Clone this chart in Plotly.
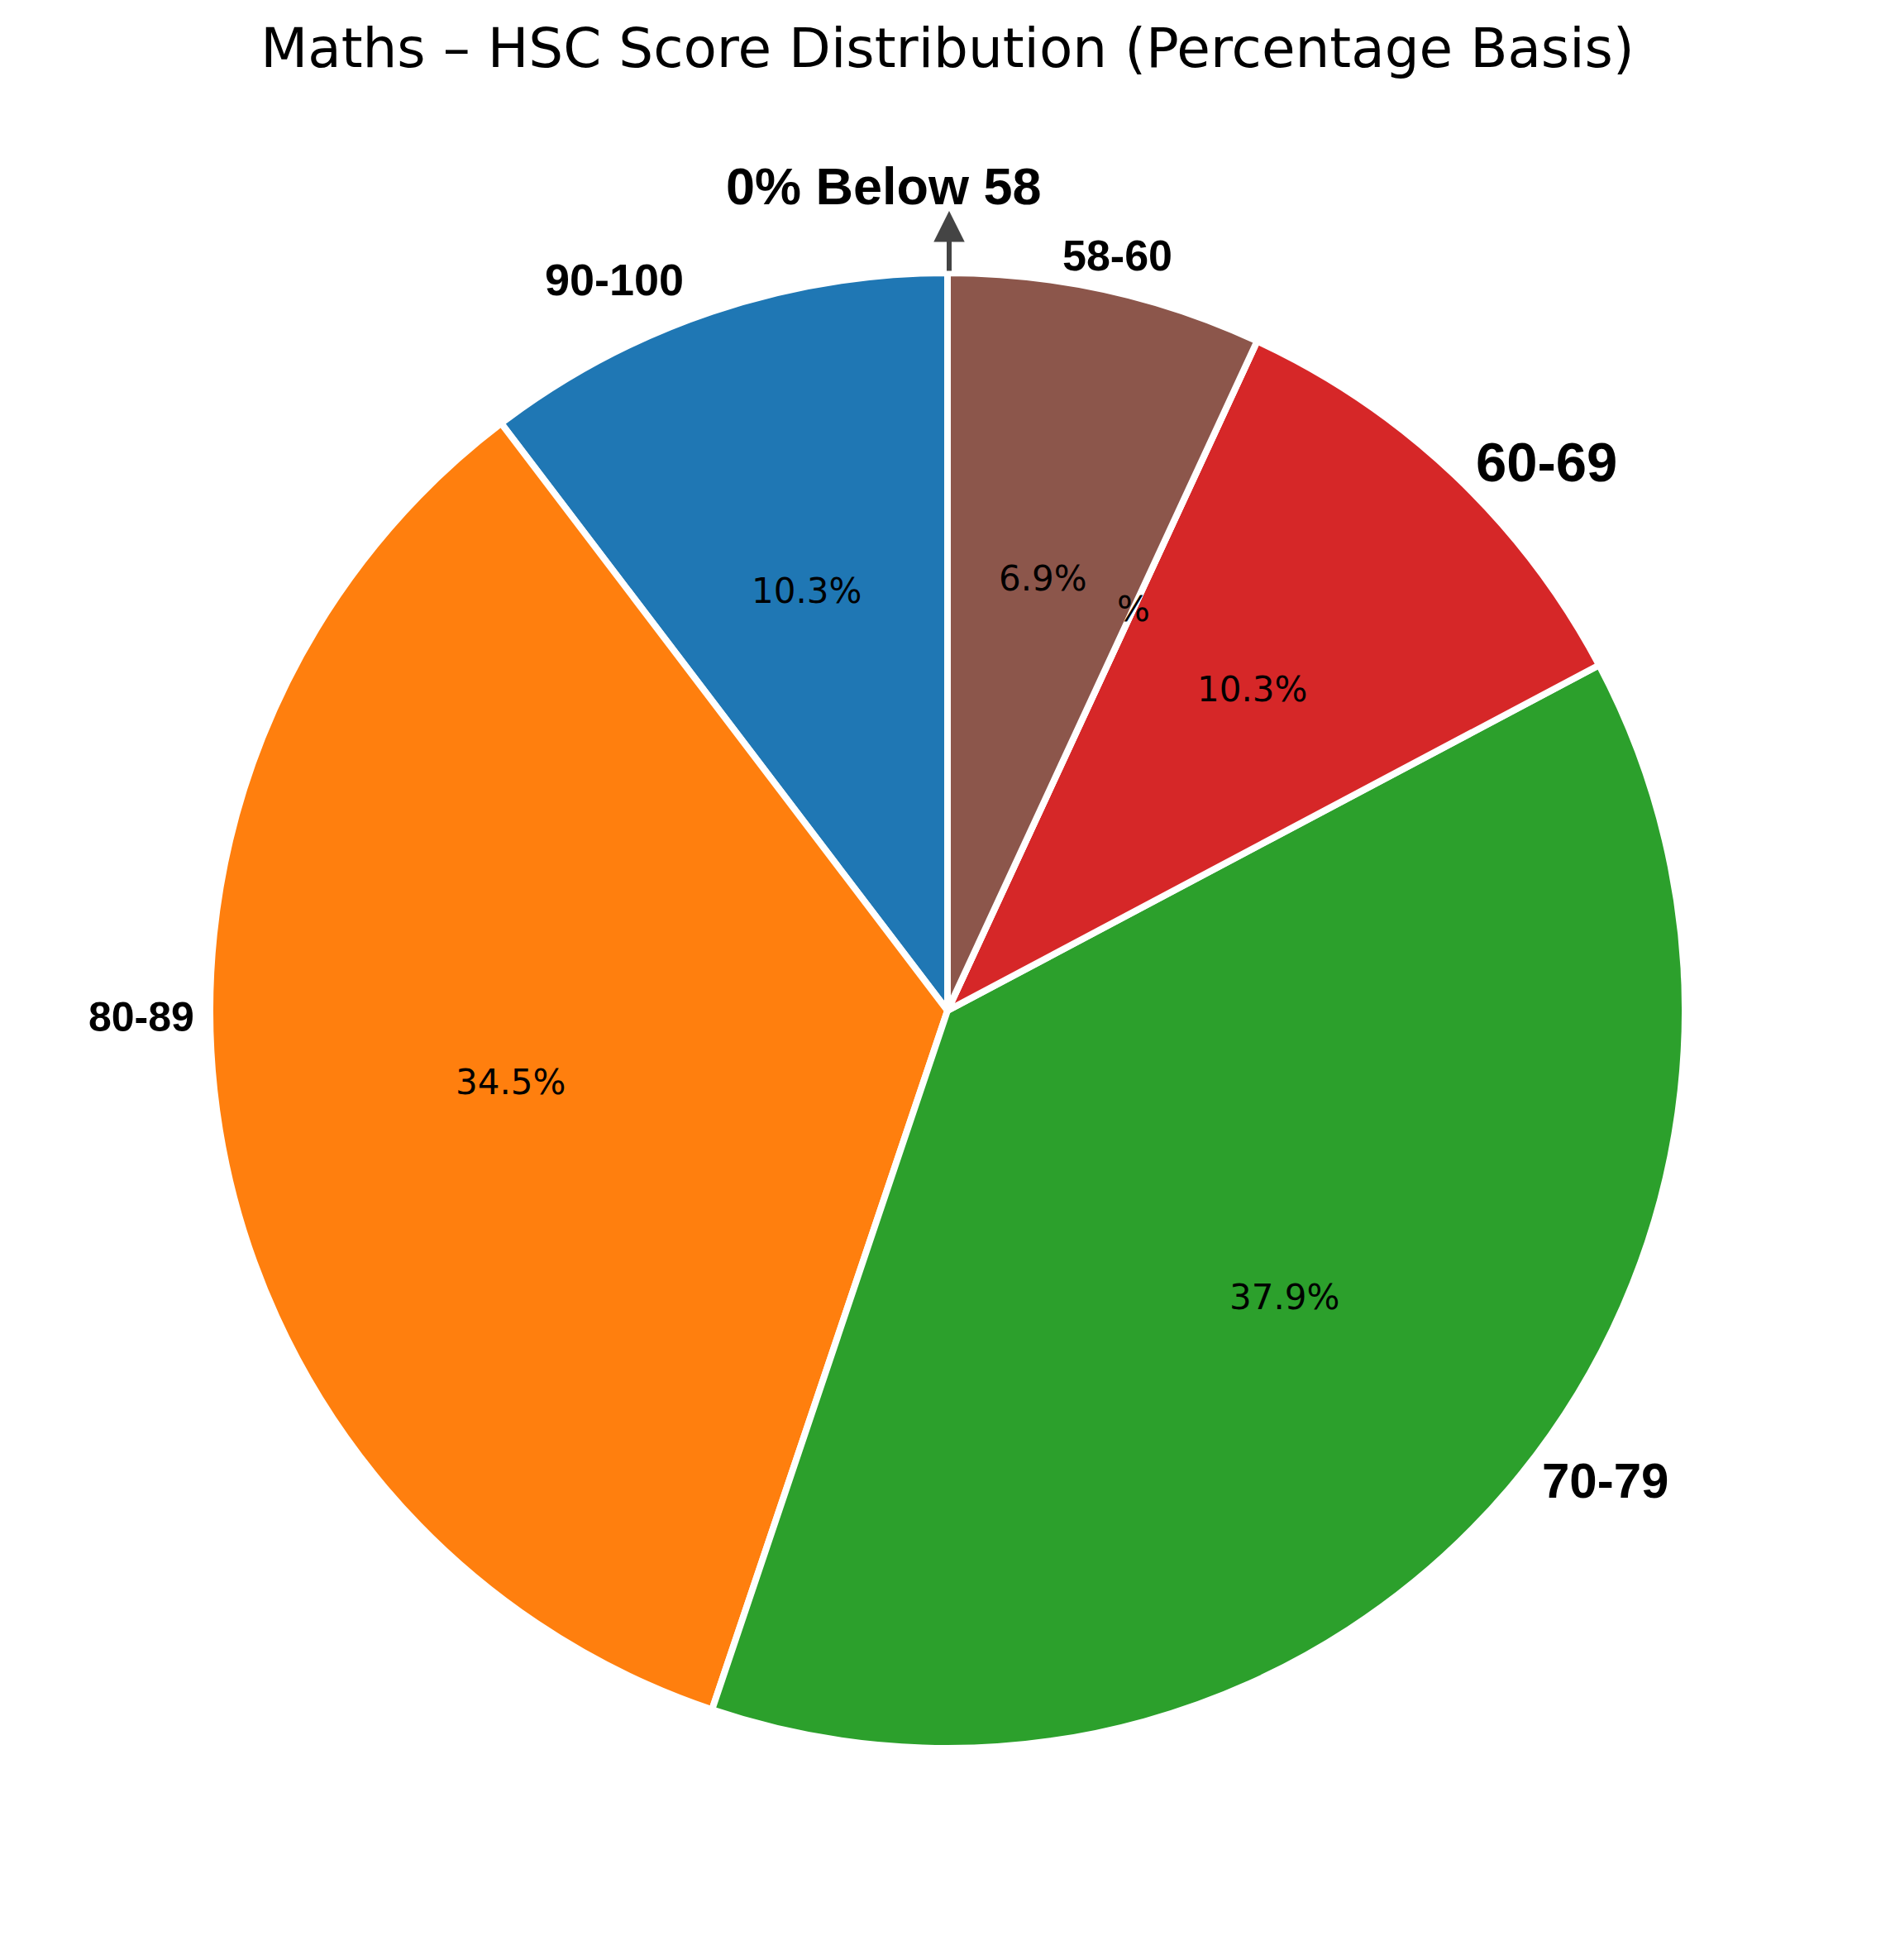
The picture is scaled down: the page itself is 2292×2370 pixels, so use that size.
import math
import plotly.graph_objects as go

# ---- data ----
score_bands = ["90-100", "80-89", "70-79", "60-69", "Below 58", "58-60"]
student_counts = [3, 10, 11, 3, 0, 2]
slice_colors = ["#1f77b4", "#ff7f0e", "#2ca02c", "#d62728", "#9467bd", "#8c564b"]
title_text = "Maths \u2013 HSC Score Distribution (Percentage Basis)"
callout_text = "0% Below 58"

# ---- layout constants (pixels) ----
W, H = 2292, 2370
CX, CY, R = 1146, 1222, 892

# outside label styling: anchor pixel, alignment, font size
label_style = {
    "90-100": dict(px=829, py=338, xanchor="right", size=54),
    "80-89": dict(px=237, py=1230, xanchor="right", size=50),
    "70-79": dict(px=1863, py=1790, xanchor="left", size=60),
    "60-69": dict(px=1783, py=558, xanchor="left", size=67),
    "58-60": dict(px=1283, py=309, xanchor="left", size=52),
}


def px_to_paper(px, py):
    return px / W, (H - py) / H


total = sum(student_counts)

fig = go.Figure()
fig.add_trace(go.Pie(
    labels=score_bands,
    values=student_counts,
    sort=False,
    direction="counterclockwise",
    # plotly places the first slice clockwise of the start angle in
    # counterclockwise mode; rotate so it starts at 12 o'clock instead
    rotation=-360 * student_counts[0] / total,
    textinfo="none",
    marker=dict(colors=slice_colors, line=dict(color="white", width=8)),
    domain=dict(x=[(CX - R) / W, (CX + R) / W],
                y=[(H - CY - R) / H, (H - CY + R) / H]),
    showlegend=False,
    hoverinfo="label+percent",
))

annotations = []
cum = 0
for band, v in zip(score_bands, student_counts):
    theta1 = 90 + 360 * cum / total
    mid = math.radians(theta1 + 180 * v / total)
    cum += v
    pct = 100 * v / total
    tx = CX + 0.6 * R * math.cos(mid)
    ty = CY - 0.6 * R * math.sin(mid)
    xp, yp = px_to_paper(tx, ty)
    txt = f"{pct:.1f}%" if v > 0 else "%"
    annotations.append(dict(
        x=xp, y=yp, xref="paper", yref="paper", text=txt, showarrow=False,
        xanchor="center", yanchor="middle",
        font=dict(family="DejaVu Sans", size=42, color="black"),
    ))
    if band in label_style:
        st = label_style[band]
        lx, ly = px_to_paper(st["px"], st["py"])
        annotations.append(dict(
            x=lx, y=ly, xref="paper", yref="paper", text=f"<b>{band}</b>",
            showarrow=False, xanchor=st["xanchor"], yanchor="middle",
            font=dict(family="Liberation Sans", size=st["size"], color="black"),
        ))

# callout arrow (tail at the pie top, head pointing up to the text)
ax_, ay_ = px_to_paper(CX + 2, 255)
annotations.append(dict(
    x=ax_, y=ay_, xref="paper", yref="paper", text="",
    showarrow=True, ax=0, ay=74, axref="pixel", ayref="pixel",
    arrowhead=2, arrowsize=1.25, arrowwidth=6, arrowcolor="#444444", standoff=0,
))
cx_, cy_ = px_to_paper(1069, 225)
annotations.append(dict(
    x=cx_, y=cy_, xref="paper", yref="paper", text=f"<b>{callout_text}</b>",
    showarrow=False, xanchor="center", yanchor="middle",
    font=dict(family="Liberation Sans", size=63, color="black"),
))

fig.update_layout(
    width=W, height=H,
    margin=dict(l=0, r=0, t=0, b=0),
    paper_bgcolor="white", plot_bgcolor="white",
    title=dict(text=title_text, x=0.5, xanchor="center",
               y=1 - 58 / H, yanchor="middle",
               font=dict(family="DejaVu Sans", size=66, color="black")),
    annotations=annotations,
)

fig.write_html("out.html", config={"displayModeBar": False},
               post_script="document.body.style.margin='0';")
